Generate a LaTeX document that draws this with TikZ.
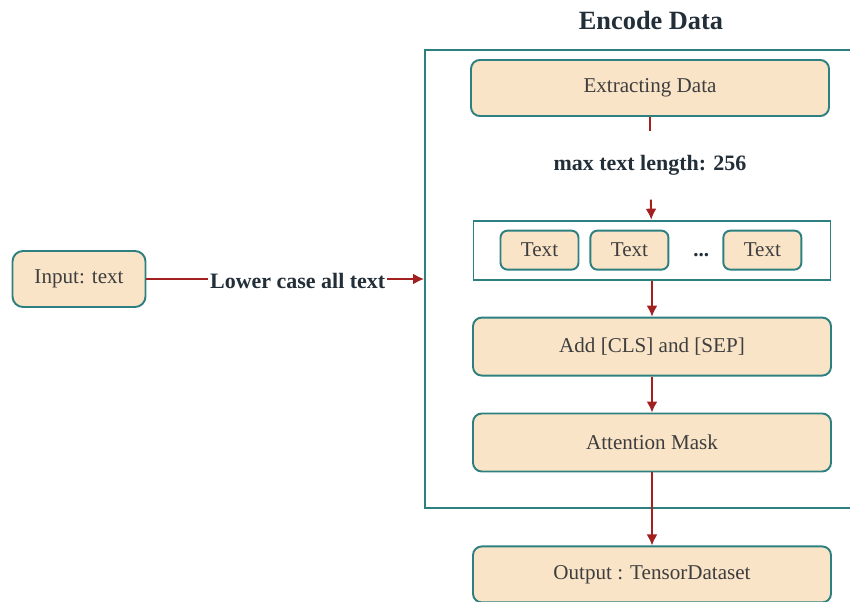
\documentclass[tikz,border=0pt]{standalone}
\usepackage{fontspec}
\setmainfont{Liberation Serif}
\usetikzlibrary{arrows.meta, positioning, calc}
\definecolor{boxteal}{RGB}{46,128,128}
\definecolor{boxpeach}{RGB}{250,228,200}
\definecolor{linkred}{RGB}{162,32,32}
\definecolor{inkdark}{RGB}{34,46,56}
\definecolor{inkgray}{RGB}{62,62,62}

\begin{document}
\begin{tikzpicture}[
  block/.style={rectangle, rounded corners=5pt, draw=boxteal, line width=1.1pt, fill=boxpeach, minimum width=7.16cm, minimum height=1.16cm, align=center, text=inkgray, font=\fontsize{12}{14}\selectfont},
  token/.style={block, rounded corners=4pt, minimum width=1.56cm, minimum height=0.78cm},
  frame/.style={rectangle, draw=boxteal, line width=1.1pt},
  lbl/.style={font=\fontsize{12.5}{15}\selectfont\bfseries, text=inkdark},
  link/.style={linkred, line width=1.1pt},
  arrow/.style={-{Latex[length=2.2mm,width=2.2mm]}, link},
]
  \fill[white] (0,0) rectangle (17,-12.04);
  \useasboundingbox (0,0) rectangle (17,-12.04);

  \node[font=\fontsize{15}{18}\selectfont\bfseries, text=inkdark] (title) at (13.02,-0.4) {Encode Data};
  \node[frame, minimum width=8.6cm, minimum height=9.16cm] (encode) at (12.8,-5.58) {};
  \node[block, rounded corners=6pt, minimum width=2.66cm, minimum height=1.12cm] (input) at (1.58,-5.58) {Input: text};

  \node[block, minimum height=1.12cm] (extract) at (13.0,-1.76) {Extracting Data};
  \node[lbl, minimum height=1.36cm, below=0.28cm of extract] (maxlen) {max text length: 256};
  \node[frame, minimum width=7.14cm, minimum height=1.18cm, below=0.4cm of maxlen, xshift=0.04cm] (row) {};
  \node[token, anchor=west] (t1) at ([xshift=0.54cm]row.west) {Text};
  \node[token, right=0.2cm of t1] (t2) {Text};
  \node[token, right=1.06cm of t2] (t3) {Text};
  \node[lbl, font=\fontsize{12}{14}\selectfont\bfseries, anchor=base] (dots) at ($(t2.base east)!0.6!(t3.base west)$) {...};
  \node[block, below=0.72cm of row] (addsep) {Add [CLS] and [SEP]};
  \node[block, below=0.72cm of addsep] (mask) {Attention Mask};
  \node[block, minimum height=1.12cm, below=1.46cm of mask] (output) {Output : TensorDataset};

  \draw[arrow] (input) -- node[lbl, fill=white, inner sep=1pt, pos=0.545, yshift=-1pt] (lower) {Lower case all text} (encode);
  \draw[link] (extract) -- (maxlen);
  \draw[arrow] (maxlen) -- (row);
  \draw[arrow] (row) -- (addsep);
  \draw[arrow] (addsep) -- (mask);
  \draw[arrow] (mask) -- (output);
\end{tikzpicture}
\end{document}
